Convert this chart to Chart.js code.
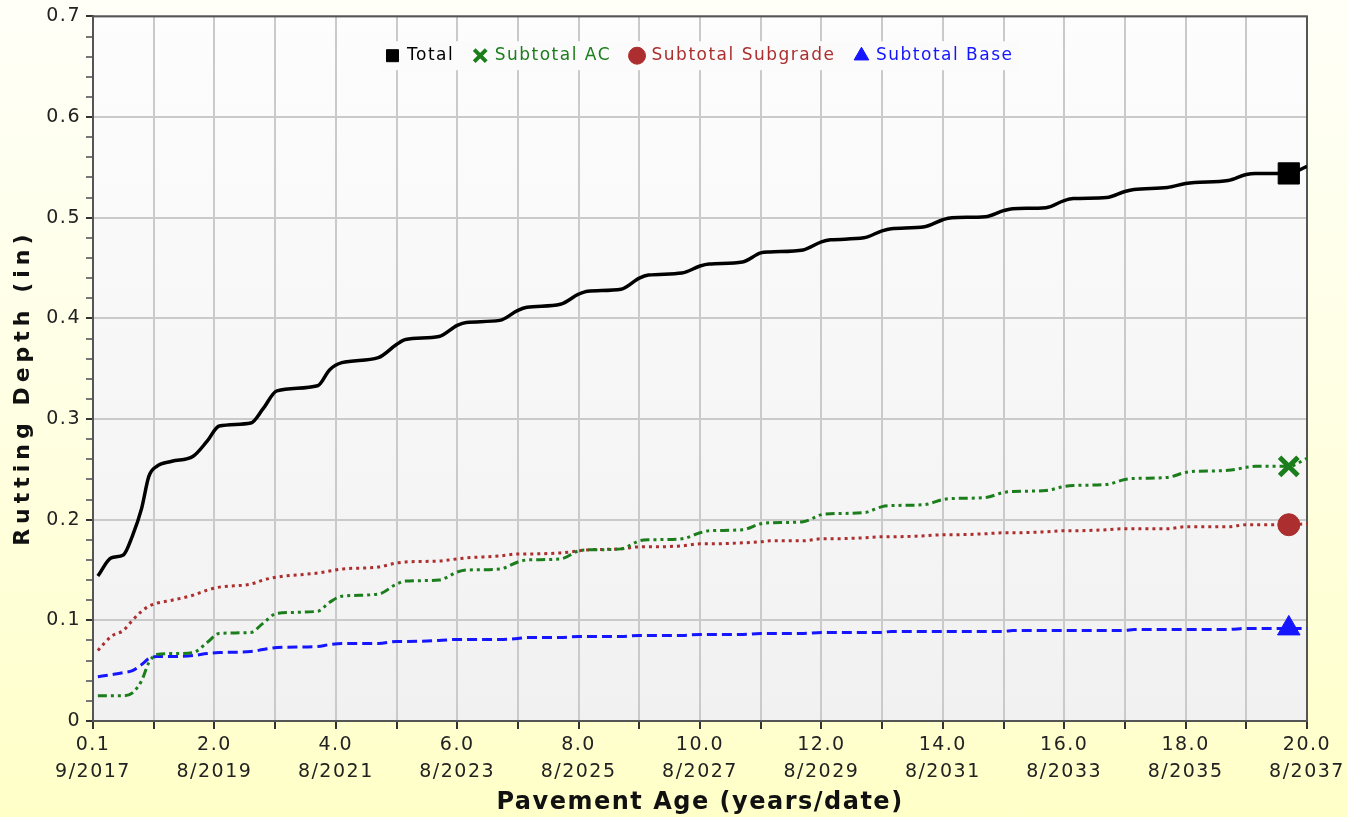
<!DOCTYPE html>
<html lang="en">
<head>
<meta charset="UTF-8">
<title>Rutting Depth</title>
<script src="https://cdn.jsdelivr.net/npm/chart.js"></script>
<style>
    body {
        margin: 0;
        background: #fff;
    }
    #wrap {
        position: absolute;
        left: 0;
        top: 0;
        width: 1347px;
        height: 817px;
        background: linear-gradient(to bottom, #fffff8 0%, #ffffe6 45%, #ffffc8 100%);
    }
</style>
</head>
<body>

<div id="wrap"><canvas id="rutChart" width="1347" height="817"></canvas></div>

<script>
// pavement age in years (x axis)
var ages = [0.08, 0.3, 0.5, 0.65, 0.8, 0.92, 1.05, 1.3, 1.65, 1.88, 2.08, 2.6, 2.8, 3.03, 3.7, 3.9, 4.1, 4.7,
    5.0, 5.15, 5.7, 6.0, 6.15, 6.7, 7.0, 7.15, 7.7, 8.0, 8.15, 8.7, 9.0, 9.15, 9.7,
    10.0, 10.15, 10.7, 11.0, 11.15, 11.7, 12.0, 12.15, 12.7, 13.0, 13.15, 13.7, 14.0, 14.15, 14.7,
    15.0, 15.15, 15.7, 16.0, 16.15, 16.7, 17.0, 17.15, 17.7, 18.0, 18.15, 18.7, 19.0, 19.15, 19.7, 20.0];

// rutting depth (in)
var totalRut = [0.144, 0.162, 0.165, 0.184, 0.211, 0.243, 0.253, 0.258, 0.263, 0.278, 0.293, 0.296, 0.310, 0.328, 0.333, 0.349, 0.356, 0.361,
    0.374, 0.379, 0.382, 0.393, 0.396, 0.398, 0.408, 0.411, 0.414, 0.424, 0.427, 0.429, 0.440, 0.443, 0.445,
    0.452, 0.454, 0.456, 0.465, 0.466, 0.468, 0.476, 0.478, 0.480, 0.487, 0.489, 0.491, 0.498, 0.500, 0.501,
    0.507, 0.509, 0.510, 0.517, 0.519, 0.520, 0.526, 0.528, 0.530, 0.534, 0.535, 0.537, 0.543, 0.544, 0.544, 0.551];

var acRut = [0.025, 0.025, 0.025, 0.028, 0.040, 0.058, 0.066, 0.067, 0.068, 0.078, 0.087, 0.088, 0.097, 0.107, 0.109, 0.118, 0.124, 0.126,
    0.136, 0.139, 0.140, 0.148, 0.150, 0.151, 0.158, 0.160, 0.161, 0.169, 0.170, 0.171, 0.179, 0.180, 0.181,
    0.187, 0.189, 0.190, 0.196, 0.197, 0.198, 0.205, 0.206, 0.207, 0.213, 0.214, 0.215, 0.220, 0.221, 0.222,
    0.227, 0.228, 0.229, 0.233, 0.234, 0.235, 0.240, 0.241, 0.242, 0.247, 0.248, 0.249, 0.252, 0.253, 0.253, 0.261];

var subgradeRut = [0.070, 0.084, 0.090, 0.100, 0.109, 0.114, 0.117, 0.120, 0.125, 0.130, 0.133, 0.136, 0.140, 0.143, 0.147, 0.149, 0.151, 0.153,
    0.157, 0.158, 0.159, 0.161, 0.162, 0.164, 0.166, 0.166, 0.167, 0.169, 0.170, 0.171, 0.173, 0.173, 0.174,
    0.176, 0.176, 0.177, 0.178, 0.179, 0.179, 0.181, 0.181, 0.182, 0.183, 0.183, 0.184, 0.185, 0.185, 0.186,
    0.187, 0.187, 0.188, 0.189, 0.189, 0.190, 0.191, 0.191, 0.191, 0.193, 0.193, 0.193, 0.195, 0.195, 0.195, 0.196];

var baseRut = [0.044, 0.046, 0.048, 0.050, 0.056, 0.062, 0.064, 0.064, 0.065, 0.067, 0.068, 0.069, 0.071, 0.073, 0.074, 0.076, 0.077, 0.077,
    0.079, 0.079, 0.080, 0.081, 0.081, 0.081, 0.082, 0.083, 0.083, 0.084, 0.084, 0.084, 0.085, 0.085, 0.085,
    0.086, 0.086, 0.086, 0.087, 0.087, 0.087, 0.088, 0.088, 0.088, 0.088, 0.089, 0.089, 0.089, 0.089, 0.089,
    0.089, 0.090, 0.090, 0.090, 0.090, 0.090, 0.090, 0.091, 0.091, 0.091, 0.091, 0.091, 0.092, 0.092, 0.092, 0.092];

var seriesNames = ['Total', 'Subtotal AC', 'Subtotal Subgrade', 'Subtotal Base'];
var markerAge = 19.7;
var startYear = 2017;

function toPoints(values) {
    return ages.map((a, i) => ({ x: a, y: values[i] }));
}

function markerRadius(r) {
    return function (ctx) {
        return ctx.raw && ctx.raw.x === markerAge ? r : 0;
    };
}

function isMajor(v) {
    return Math.round(v * 100) % 10 === 0;
}

var plotFrame = {
    id: 'plotFrame',
    beforeLayout: function (chart) {
        chart.ctx.letterSpacing = '1.5px';
        var lg = chart.legend;
        if (lg && !lg._flat) {
            lg._flat = true;
            // legend sits inside the plot, so it takes no layout height
            var fit = lg.fit;
            lg.fit = function () {
                fit.call(this);
                this.height = 0;
            };
            var draw = lg.draw;
            lg.draw = function () {
                var hb = this.legendHitBoxes || [];
                if (hb.length) {
                    var l = Math.min.apply(null, hb.map(h => h.left));
                    var r = Math.max.apply(null, hb.map(h => h.left + h.width));
                    var t = Math.min.apply(null, hb.map(h => h.top));
                    var b = Math.max.apply(null, hb.map(h => h.top + h.height));
                    this.ctx.save();
                    this.ctx.fillStyle = '#fbfbfb';
                    this.ctx.fillRect(l - 6, t - 6, r - l + 12, b - t + 12);
                    this.ctx.restore();
                }
                var bottom = this.bottom;
                this.bottom = this.top + 80;
                draw.call(this);
                this.bottom = bottom;
            };
        }
    },
    afterLayout: function (chart) {
        var ys = chart.scales.y;
        if (ys && !ys._wide) {
            ys._wide = true;
            var drawTitle = ys.drawTitle;
            ys.drawTitle = function () {
                var old = this.ctx.letterSpacing;
                this.ctx.letterSpacing = '5px';
                drawTitle.call(this);
                this.ctx.letterSpacing = old;
            };
        }
    },
    beforeDraw: function (chart) {
        var a = chart.chartArea;
        var ctx = chart.ctx;
        ctx.letterSpacing = '1.5px';
        var g = ctx.createLinearGradient(0, a.top, 0, a.bottom);
        g.addColorStop(0, '#fdfdfd');
        g.addColorStop(1, '#f1f1f1');
        ctx.save();
        ctx.fillStyle = g;
        ctx.fillRect(a.left, a.top, a.right - a.left, a.bottom - a.top);
        ctx.restore();
    },
    beforeDatasetsDraw: function (chart) {
        var a = chart.chartArea;
        var ctx = chart.ctx;
        ctx.save();
        ctx.strokeStyle = '#555';
        ctx.lineWidth = 2;
        ctx.strokeRect(a.left, a.top, a.right - a.left, a.bottom - a.top);
        ctx.restore();
    }
};

var ctxRut = document.getElementById('rutChart').getContext('2d');
var rutChart = new Chart(ctxRut, {
    type: 'line',
    data: {
        datasets: [{
            label: seriesNames[0],
            data: toPoints(totalRut),
            borderColor: '#000000',
            backgroundColor: '#000000',
            borderWidth: 3.5,
            pointStyle: 'rect',
            pointRadius: markerRadius(15),
            pointBorderWidth: 1,
        }, {
            label: seriesNames[1],
            data: toPoints(acRut),
            borderColor: '#1b7d1b',
            backgroundColor: '#1b7d1b',
            borderWidth: 3,
            borderDash: [9, 4, 3, 4, 3, 4],
            pointStyle: 'crossRot',
            pointRadius: markerRadius(13),
            pointBorderWidth: 5,
        }, {
            label: seriesNames[2],
            data: toPoints(subgradeRut),
            borderColor: '#ac2e2e',
            backgroundColor: '#ac2e2e',
            borderWidth: 3,
            borderDash: [3, 4],
            pointStyle: 'circle',
            pointRadius: markerRadius(11),
            pointBorderWidth: 1,
        }, {
            label: seriesNames[3],
            data: toPoints(baseRut),
            borderColor: '#1515ff',
            backgroundColor: '#1515ff',
            borderWidth: 3,
            borderDash: [10, 5],
            pointStyle: 'triangle',
            pointRadius: markerRadius(13),
            pointBorderWidth: 1,
        }]
    },
    options: {
        responsive: false,
        animation: false,
        layout: {
            padding: { top: 12, right: 40, left: 0, bottom: 0 }
        },
        elements: {
            line: { cubicInterpolationMode: 'monotone' }
        },
        scales: {
            x: {
                type: 'linear',
                min: 0,
                max: 20,
                afterFit: function (scale) { scale.height = 96; },
                ticks: {
                    stepSize: 1,
                    autoSkip: false,
                    maxRotation: 0,
                    padding: 2,
                    color: '#222',
                    font: { family: 'DejaVu Sans', size: 19, lineHeight: 1.45 },
                    callback: function (v) {
                        if (v === 0) return ['0.1', '9/' + startYear];
                        if (v % 2 !== 0) return '';
                        return [v.toFixed(1), '8/' + (startYear + v)];
                    }
                },
                grid: {
                    z: -1,
                    color: '#cacaca',
                    lineWidth: 2,
                    tickColor: '#333',
                    tickLength: 8,
                    tickWidth: 2,
                },
                border: { color: '#555', width: 2 },
                title: {
                    display: true,
                    text: 'Pavement Age (years/date)',
                    color: '#111',
                    font: { family: 'DejaVu Sans', size: 24, weight: 'bold' },
                    padding: { top: 0, bottom: 0 }
                }
            },
            y: {
                min: 0,
                max: 0.7,
                afterFit: function (scale) { scale.width = 93; },
                ticks: {
                    stepSize: 0.02,
                    autoSkip: false,
                    padding: 5,
                    color: '#222',
                    font: { family: 'DejaVu Sans', size: 19 },
                    callback: function (v) {
                        if (!isMajor(v)) return '';
                        return Math.round(v * 100) === 0 ? '0' : v.toFixed(1);
                    }
                },
                grid: {
                    z: -1,
                    color: function (c) {
                        return isMajor(c.tick.value) ? '#cacaca' : 'rgba(0,0,0,0)';
                    },
                    lineWidth: 2,
                    tickColor: function (c) {
                        return isMajor(c.tick.value) ? '#333' : '#777';
                    },
                    tickLength: 7,
                    tickWidth: 2,
                },
                border: { color: '#555', width: 2 },
                title: {
                    display: true,
                    text: 'Rutting Depth (in)   ',
                    color: '#111',
                    font: { family: 'DejaVu Sans', size: 22, weight: 'bold' },
                    padding: { top: 10, bottom: 0 }
                }
            }
        },
        plugins: {
            legend: {
                display: true,
                position: 'top',
                align: 'center',
                fullSize: false,
                title: {
                    display: true,
                    text: ' ',
                    font: { size: 9 },
                    padding: { top: 0, bottom: 0 }
                },
                labels: {
                    usePointStyle: true,
                    boxWidth: 12,
                    boxHeight: 12,
                    padding: 20,
                    font: { family: 'DejaVu Sans', size: 17 },
                    generateLabels: function (chart) {
                        var items = Chart.defaults.plugins.legend.labels.generateLabels(chart);
                        items.forEach(function (item, i) {
                            var ds = chart.data.datasets[i];
                            item.lineDash = [];
                            item.fontColor = ds.borderColor;
                            item.fillStyle = ds.borderColor;
                            item.strokeStyle = ds.borderColor;
                            item.lineWidth = i === 1 ? 4 : 1;
                        });
                        return items;
                    }
                }
            },
            tooltip: { enabled: false }
        }
    },
    plugins: [plotFrame]
});
</script>

</body>
</html>
